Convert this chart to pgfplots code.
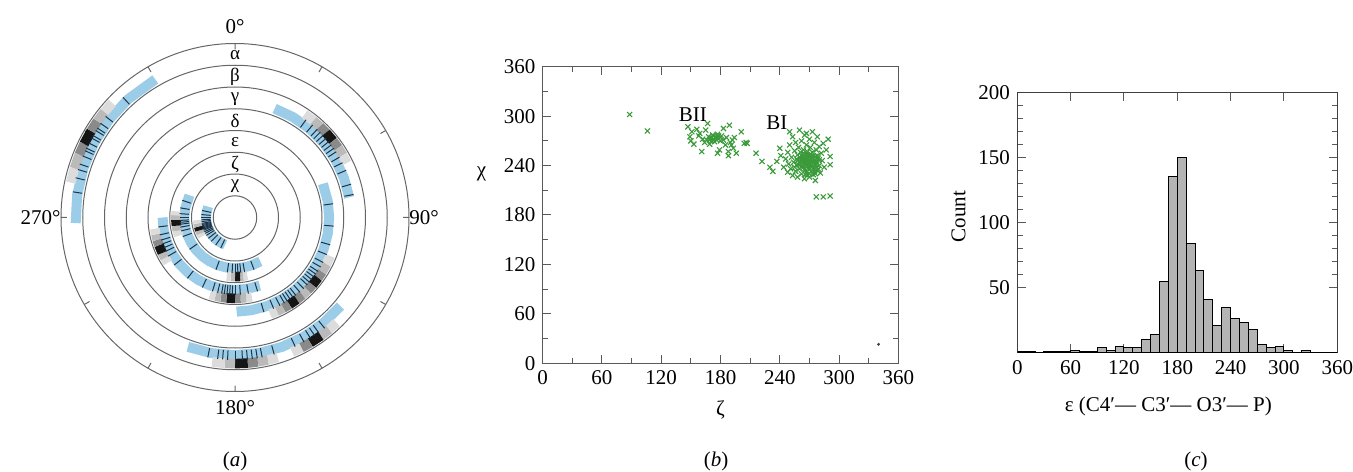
\documentclass[border=0pt]{standalone}
\usepackage{fontspec}
\setmainfont{Liberation Serif}
\usepackage{pgfplots}
\pgfplotsset{compat=1.18}
\usepgfplotslibrary{polar}
\definecolor{bandblue}{HTML}{9CCDE8}
\definecolor{tickblue}{HTML}{1E3446}
\definecolor{ptgreen}{HTML}{3A9A3A}
\definecolor{barfill}{HTML}{B4B4B4}
\definecolor{g1}{HTML}{DCDCDC}
\definecolor{g2}{HTML}{BABABA}
\definecolor{g3}{HTML}{8A8A8A}
\definecolor{g4}{HTML}{151515}
\pgfplotsset{/pgf/number format/assume math mode=true}

% grey histogram tile on a ring: colour, from, to, radius
\newcommand{\tile}[4]{\addplot[line width=4.8pt, #1] coordinates {(#2,#4) (#3,#4)};}
% individual values: inner radius, outer radius, list of angles
\newcommand{\vals}[3]{\pgfplotsinvokeforeach{#3}{\addplot[tickblue, line width=0.5pt] coordinates {(##1,#1) (##1,#2)};}}

\begin{document}
\fontsize{10.5}{12}\selectfont
\begin{tikzpicture}
\useasboundingbox (0,0) rectangle (676.5pt,235.5pt);

% ===== (a) conformational wheel, angles clockwise from the top ==========
\begin{polaraxis}[
  at={(117.5pt,126.75pt)}, anchor=center,
  width=174pt, height=174pt, scale only axis,
  xmin=0, xmax=360, ymin=0, ymax=8,
  x filter/.expression={90-x},
  xtick={0,30,...,330},
  xticklabels={90°,,,0°,,,270°,,,180°,,},
  xticklabel style={inner xsep=3pt, inner ysep=7.5pt},
  ytick={1,...,7}, yticklabels={},
  grid=none, ymajorgrids=true,
  major grid style={black!60, line width=0.5pt},
  axis line style={black!60, line width=0.5pt},
  y axis line style={draw=none},
  ytick style={draw=none},
  xtick style={black!60, line width=0.5pt},
  tick align=outside, major tick length=3pt,
  clip=false,
]
  % ranges
  \addplot[bandblue, line width=5pt] coordinates {(268,7.33)(278,7.33)(288,7.33)(298,7.33)(308,7.33)(318,7.33)(330,7.33)};
  \addplot[bandblue, line width=5pt] coordinates {(130,6.33)(140,6.33)(150,6.33)(160,6.33)(170,6.33)(180,6.33)(190,6.33)(200,6.33)};
  \addplot[bandblue, line width=5pt] coordinates {(20,5.33)(30,5.33)(40,5.33)(50,5.33)(60,5.33)(70,5.33)(80,5.33)};
  \addplot[bandblue, line width=5pt] coordinates {(69,4.33)(80,4.33)(90,4.33)(100,4.33)(110,4.33)(120,4.33)(130,4.33)(140,4.33)(150,4.33)(160,4.33)(170,4.33)(179,4.33)};
  \addplot[bandblue, line width=5pt] coordinates {(160,3.33)(170,3.33)(180,3.33)(190,3.33)(200,3.33)(210,3.33)(220,3.33)(230,3.33)(240,3.33)(250,3.33)(260,3.33)(270,3.33)};
  \addplot[bandblue, line width=5pt] coordinates {(150,2.33)(160,2.33)(170,2.33)(180,2.33)(190,2.33)(200,2.33)(210,2.33)(220,2.33)(230,2.33)(240,2.33)(250,2.33)(260,2.33)(270,2.33)(280,2.33)(296,2.33)};
  \addplot[bandblue, line width=5pt] coordinates {(200,1.33)(210,1.33)(220,1.33)(230,1.33)(240,1.33)(250,1.33)(260,1.33)(270,1.33)(280,1.33)(292,1.33)};

  % histograms
  \tile{g1}{282}{287}{7.72}\tile{g2}{287}{292}{7.72}\tile{g3}{292}{296}{7.72}
  \tile{g4}{296}{301}{7.72}\tile{g3}{301}{305}{7.72}\tile{g2}{305}{309}{7.72}\tile{g1}{309}{313}{7.72}
  \tile{g1}{136}{140}{6.72}\tile{g2}{140}{144}{6.72}\tile{g4}{144}{149}{6.72}\tile{g3}{149}{153}{6.72}\tile{g1}{153}{157}{6.72}
  \tile{g1}{163}{167}{6.72}\tile{g2}{167}{171}{6.72}\tile{g3}{171}{175}{6.72}\tile{g4}{175}{180}{6.72}\tile{g2}{180}{184}{6.72}\tile{g1}{184}{189}{6.72}
  \tile{g1}{34}{39}{5.72}\tile{g2}{39}{43}{5.72}\tile{g3}{43}{47}{5.72}\tile{g4}{47}{52}{5.72}\tile{g3}{52}{56}{5.72}\tile{g2}{56}{60}{5.72}\tile{g1}{60}{64}{5.72}
  \tile{g1}{112}{117}{4.72}\tile{g2}{117}{122}{4.72}\tile{g3}{122}{126}{4.72}\tile{g4}{126}{131}{4.72}\tile{g3}{131}{135}{4.72}\tile{g2}{135}{139}{4.72}
  \tile{g3}{139}{143}{4.72}\tile{g4}{143}{148}{4.72}\tile{g3}{148}{152}{4.72}\tile{g2}{152}{156}{4.72}\tile{g1}{156}{160}{4.72}
  \tile{g1}{168}{172}{3.72}\tile{g2}{172}{176}{3.72}\tile{g3}{176}{180}{3.72}\tile{g4}{180}{186}{3.72}\tile{g3}{186}{190}{3.72}\tile{g2}{190}{194}{3.72}\tile{g1}{194}{198}{3.72}
  \tile{g1}{236}{240}{3.72}\tile{g2}{240}{244}{3.72}\tile{g4}{244}{250}{3.72}\tile{g3}{250}{254}{3.72}\tile{g2}{254}{258}{3.72}\tile{g1}{258}{262}{3.72}
  \tile{g1}{168}{172}{2.72}\tile{g2}{172}{175}{2.72}\tile{g4}{175}{180}{2.72}\tile{g2}{180}{184}{2.72}\tile{g1}{184}{188}{2.72}
  \tile{g1}{252}{257}{2.72}\tile{g2}{257}{262}{2.72}\tile{g4}{262}{268}{2.72}\tile{g2}{268}{272}{2.72}\tile{g1}{272}{276}{2.72}
  \tile{g1}{240}{245}{1.72}\tile{g2}{245}{250}{1.72}\tile{g4}{250}{256}{1.72}\tile{g2}{256}{261}{1.72}\tile{g1}{261}{266}{1.72}

  % individual values
  \vals{7.12}{7.55}{279,284,287,289,292,294,295,297,299,300,302,303,305,308,317}
  \vals{6.12}{6.55}{141,144,146,148,151,155,164,169,171,173,175,177,180,183,185,187,191}
  \vals{5.12}{5.55}{36,40,43,45,47,49,51,53,55,57,60,63,67,74,79}
  \vals{4.12}{4.55}{82,95,106,112,117,120,123,125,127,129,131,133,136,139,142,144,146,148,150,153,157,163}
  \vals{3.12}{3.55}{163,170,176,180,182,184,186,188,190,193,197,205,218,232,240,244,247,250,253,257,263}
  \vals{2.12}{2.55}{160,170,174,177,180,183,188,200,235,250,256,260,263,265,267,270,274,280,288}
  \vals{1.12}{1.55}{205,215,225,232,238,242,245,248,250,252,254,256,258,260,263,266,270,275,282}

  \node[font=\fontsize{9.5}{10}\selectfont] at (axis cs:90,7.45) {α};
  \node[font=\fontsize{9.5}{10}\selectfont] at (axis cs:90,6.45) {β};
  \node[font=\fontsize{9.5}{10}\selectfont] at (axis cs:90,5.45) {γ};
  \node[font=\fontsize{9.5}{10}\selectfont] at (axis cs:90,4.45) {δ};
  \node[font=\fontsize{9.5}{10}\selectfont] at (axis cs:90,3.45) {ε};
  \node[font=\fontsize{9.5}{10}\selectfont] at (axis cs:90,2.45) {ζ};
  \node[font=\fontsize{9.5}{10}\selectfont] at (axis cs:90,1.45) {χ};
\end{polaraxis}

% ===== (b) chi against zeta =============================================
\begin{axis}[
  at={(271.35pt,53.85pt)}, anchor=south west,
  width=177.8pt, height=148.3pt, scale only axis,
  xmin=0, xmax=360, ymin=0, ymax=360,
  xtick={0,60,...,360}, ytick={0,60,...,360},
  minor x tick num=1, minor y tick num=1,
  axis line style={black!65, line width=0.5pt},
  tick style={black!65, line width=0.5pt},
  xlabel={ζ}, ylabel={χ},
  xlabel style={at={(axis description cs:0.5,-0.157)}, anchor=center},
  ylabel style={at={(axis description cs:-0.172,0.64)}, anchor=center, rotate=-90},
  clip=false,
]
  \addplot[only marks, mark=x, mark size=1.8pt, ptgreen, line width=0.55pt] coordinates {
    (88,302)(106,282)
    (147,287)(149,275)(150,270)(151,281)(153,266)(156,284)(158,276)(159,279)(161,257)(162,272)
    (164,268)(165,283)(166,271)(167,291)(168,275)(169,266)(170,273)(171,270)(172,277)(173,272)
    (174,269)(175,275)(176,271)(177,278)(177,255)(178,273)(179,259)(180,270)(181,276)(183,285)
    (183,271)(185,265)(186,274)(188,257)(188,252)(189,289)(190,268)(191,265)(192,271)(193,261)
    (194,274)(196,255)(201,281)(204,267)(206,268)(207,267)
    (173,276)(176,274)(178,276)(171,274)(169,271)
    (216,255)(222,245)(230,238)(233,233)
    (237,245)(240,261)(241,252)(244,238)(246,248)(248,232)(248,256)(249,242)(250,281)(250,265)
    (251,236)(252,250)(253,275)(253,228)(254,244)(255,258)(255,238)(256,268)(256,233)(257,248)
    (258,253)(258,226)(259,241)(259,262)(260,283)(260,236)(261,247)(261,256)(262,230)(262,270)
    (263,243)(263,251)(264,238)(264,259)(265,224)(265,246)(265,277)(266,234)(266,253)(267,279)
    (267,241)(267,265)(268,229)(268,248)(268,257)(269,237)(269,244)(270,272)(270,252)(270,226)
    (271,240)(271,262)(272,233)(272,248)(273,281)(273,256)(274,243)(274,229)(275,268)(275,238)
    (276,251)(276,222)(277,245)(277,259)(278,234)(278,275)(279,249)(280,263)(280,240)(281,231)
    (282,255)(283,246)(284,267)(285,238)(287,259)(289,272)(291,251)(291,241)
    (260,244)(262,239)(263,247)(265,242)(266,249)(267,245)(268,240)(269,250)(270,244)(271,247)
    (272,241)(273,250)(274,236)(275,246)(276,242)(277,238)(278,243)(265,236)(267,232)(270,235)
    (272,238)(274,252)(271,254)(268,253)(264,255)(262,252)(260,250)(258,246)(266,229)(276,230)
    (279,236)(280,247)(273,245)(269,241)(266,245)(263,240)(275,233)(270,230)(278,252)(257,241)
    (277,202)(284,202)(291,203)
  };
  \addplot[only marks, mark=*, mark size=0.5pt, black!75] coordinates {(340,23)};
  \node[anchor=center] at (axis cs:152,302) {BII};
  \node[anchor=center] at (axis cs:237,292) {BI};
\end{axis}

% ===== (c) epsilon histogram ============================================
\begin{axis}[
  at={(508.65pt,59.15pt)}, anchor=south west,
  width=160pt, height=130.2pt, scale only axis,
  xmin=0, xmax=360, ymin=0, ymax=200,
  xtick={0,60,...,360}, ytick={50,100,150,200},
  minor y tick num=4,
  axis line style={black!75, line width=0.6pt},
  tick style={black!65, line width=0.5pt},
  xlabel={ε (C4′— C3′— O3′— P)}, ylabel={Count},
  xlabel style={at={(axis description cs:0.472,-0.207)}, anchor=center},
  ylabel style={at={(axis description cs:-0.184,0.522)}, anchor=center},
]
  \addplot[ybar interval, fill=barfill, draw=black, line width=0.5pt] coordinates {
    (0,1)(10,1)(20,0)(30,1)(40,1)(50,1)(60,2)(70,1)(80,1)(90,4)(100,2)(110,5)
    (120,4)(130,4)(140,10)(150,14)(160,55)(170,135)(180,150)(190,84)(200,63)(210,41)
    (220,21)(230,35)(240,26)(250,23)(260,18)(270,6)(280,4)(290,5)(300,2)(310,0)
    (320,2)(330,0)(340,0)(350,0)(360,0)
  };
\end{axis}

\node at (117.5pt,5pt) {(\textit{a})};
\node at (358pt,5pt) {(\textit{b})};
\node at (598pt,5pt) {(\textit{c})};
\end{tikzpicture}
\end{document}
